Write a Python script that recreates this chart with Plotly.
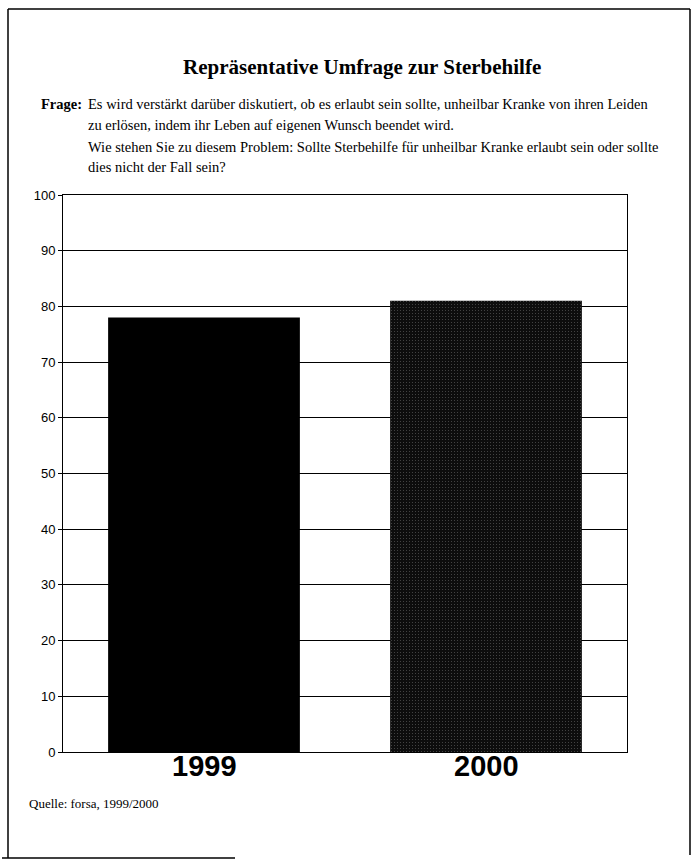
import plotly.graph_objects as go

# Survey results (share in percent)
years = ["1999", "2000"]
approval = [78, 81]
bar_colors = ["#000000", "#0d0d0d"]
y_ticks = [0, 10, 20, 30, 40, 50, 60, 70, 80, 90, 100]

W, H = 700, 863
L, R, T, B = 63, 627, 195, 752  # plot area in pixels


def px(x):
    return (x - L) / (R - L)


def py(y):
    return (B - y) / (B - T)


fig = go.Figure(
    go.Bar(
        x=years,
        y=approval,
        marker=dict(
            color=bar_colors,
            line=dict(width=0),
            pattern=dict(
                shape=["", "."],
                fgcolor="#4a4a4a",
                bgcolor="#030303",
                size=3,
                solidity=0.05,
            ),
        ),
        width=0.68,
        showlegend=False,
        hoverinfo="x+y",
    )
)

fig.update_layout(
    width=W,
    height=H,
    margin=dict(l=L, r=W - R, t=T, b=H - B),
    paper_bgcolor="white",
    plot_bgcolor="white",
    font=dict(family="Liberation Sans, Arial, sans-serif", color="black"),
)

fig.update_yaxes(
    range=[0, 100],
    tickvals=y_ticks,
    ticks="outside",
    ticklen=4,
    tickcolor="black",
    tickfont=dict(size=13, family="Liberation Sans, Arial", color="black"),
    showgrid=True,
    gridcolor="black",
    gridwidth=1,
    showline=True,
    linecolor="black",
    linewidth=1,
    mirror=True,
    zeroline=False,
    fixedrange=True,
)
fig.update_xaxes(
    type="category",
    range=[-0.5, 1.5],
    showline=True,
    linecolor="black",
    linewidth=1,
    mirror=True,
    ticks="",
    showticklabels=False,
    fixedrange=True,
)

serif = "Liberation Serif, Times New Roman, serif"
q = dict(size=14.5, family=serif)
annotations = [
    dict(text="<b>Repräsentative Umfrage zur Sterbehilfe</b>", x=px(362), y=py(67),
         font=dict(size=21, family=serif), xanchor="center", yanchor="middle"),
    dict(text="<b>Frage:</b>", x=px(84), y=py(104), font=q, xanchor="right", yanchor="middle"),
    dict(text="Es wird verstärkt darüber diskutiert, ob es erlaubt sein sollte, "
              "unheilbar Kranke von ihren Leiden",
         x=px(86), y=py(104), font=q, xanchor="left", yanchor="middle"),
    dict(text="zu erlösen, indem ihr Leben auf eigenen Wunsch beendet wird.",
         x=px(86), y=py(125), font=q, xanchor="left", yanchor="middle"),
    dict(text="Wie stehen Sie zu diesem Problem: Sollte Sterbehilfe für unheilbar Kranke "
              "erlaubt sein oder sollte",
         x=px(86), y=py(147), font=q, xanchor="left", yanchor="middle"),
    dict(text="dies nicht der Fall sein?",
         x=px(86), y=py(167), font=q, xanchor="left", yanchor="middle"),
    dict(text="Quelle: forsa, 1999/2000", x=px(27), y=py(803),
         font=dict(size=13, family=serif), xanchor="left", yanchor="middle"),
]
for a in annotations:
    a.update(xref="paper", yref="paper", showarrow=False)

# year labels under the bars (category index positions)
for i, yr in enumerate(years):
    annotations.append(dict(
        text=f"<b>{yr}</b>", x=i, xref="x", y=py(766), yref="paper",
        showarrow=False, xanchor="center", yanchor="middle",
        font=dict(size=29, family="Liberation Sans, Arial", color="black"),
    ))
fig.update_layout(annotations=annotations)

# page frame
frame = dict(type="line", xref="paper", yref="paper", line=dict(color="black", width=1.5))
fig.update_layout(shapes=[
    dict(frame, x0=px(8), y0=py(9), x1=px(690), y1=py(9)),
    dict(frame, x0=px(8), y0=py(9), x1=px(8), y1=py(858)),
    dict(frame, x0=px(690), y0=py(9), x1=px(690), y1=py(855)),
    dict(frame, x0=px(2), y0=py(858), x1=px(235), y1=py(858)),
])

fig.write_html("out.html")
